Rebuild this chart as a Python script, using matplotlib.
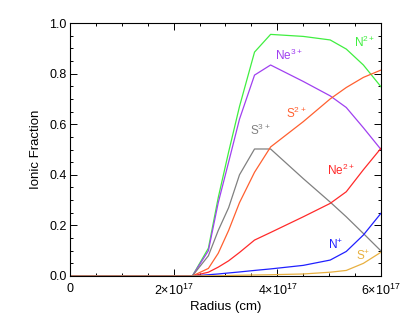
import numpy as np
import matplotlib
matplotlib.use("Agg")
import matplotlib.pyplot as plt
from matplotlib.ticker import MultipleLocator

# Radius grid (units of 1e17 cm)
radius = [0.0, 2.36, 2.67, 2.86, 3.06, 3.27, 3.56, 3.87, 4.5, 5.02, 5.33, 5.66, 6.0]

n2 = [0, 0, 0.11, 0.31, 0.49, 0.67, 0.885, 0.955, 0.947, 0.933, 0.897, 0.834, 0.748]
ne3 = [0, 0, 0.10, 0.29, 0.45, 0.62, 0.794, 0.834, 0.769, 0.712, 0.666, 0.586, 0.500]
s3 = [0, 0, 0.08, 0.18, 0.27, 0.40, 0.502, 0.502, 0.385, 0.292, 0.234, 0.168, 0.099]
s2 = [0, 0, 0.03, 0.09, 0.18, 0.29, 0.41, 0.51, 0.61, 0.70, 0.745, 0.785, 0.814]
ne2 = [0, 0, 0.015, 0.035, 0.06, 0.093, 0.142, 0.172, 0.234, 0.287, 0.333, 0.42, 0.505]
n1 = [0, 0, 0.005, 0.008, 0.012, 0.016, 0.022, 0.028, 0.042, 0.063, 0.097, 0.162, 0.248]
s1 = [0, 0, 0.001, 0.001, 0.002, 0.003, 0.004, 0.005, 0.008, 0.015, 0.022, 0.050, 0.094]

series = [
    ("N$^{2+}$", n2, "#40ee40", (5.68, 0.925)),
    ("Ne$^{3+}$", ne3, "#a040f0", (4.23, 0.87)),
    ("S$^{3+}$", s3, "#808080", (3.67, 0.577)),
    ("S$^{2+}$", s2, "#ff6030", (4.36, 0.644)),
    ("Ne$^{2+}$", ne2, "#ff2a2a", (5.23, 0.419)),
    ("N$^{+}$", n1, "#2020ff", (5.12, 0.123)),
    ("S$^{+}$", s1, "#e8b040", (5.66, 0.079)),
]

x_ticks = [0, 2e17, 4e17, 6e17]
x_ticklabels = ["0", r"2$\times$10$^{17}$", r"4$\times$10$^{17}$", r"6$\times$10$^{17}$"]
y_ticks = [0.0, 0.2, 0.4, 0.6, 0.8, 1.0]

plt.rcParams['font.family'] = ['Liberation Sans', 'DejaVu Sans']
plt.rcParams['mathtext.default'] = 'regular'

fig = plt.figure(figsize=(4.02, 3.21), dpi=100)
ax = fig.add_axes([70/402, 1-276/321, (381-70)/402, (276-23)/321])

xs = np.array(radius) * 1e17
for lab, ys, col, pos in series:
    ax.plot(xs, ys, color=col, lw=0.9)
    ax.text(pos[0]*1e17, pos[1], lab, color=col, fontsize=8.5, ha='center', va='center')

ax.set_xlim(0, 6e17)
ax.set_ylim(0, 1.0)
ax.set_xticks(x_ticks)
ax.set_xticklabels(x_ticklabels)
ax.set_yticks(y_ticks)
ax.set_yticklabels([f"{v:.1f}" for v in y_ticks])
ax.xaxis.set_minor_locator(MultipleLocator(0.5e17))
ax.yaxis.set_minor_locator(MultipleLocator(0.05))
ax.tick_params(which='both', direction='in', top=True, right=True, labelsize=9, width=0.7)
ax.tick_params(which='major', length=5)
ax.tick_params(axis='y', which='major', pad=2.5)
ax.tick_params(axis='x', which='major', pad=5)
ax.tick_params(which='minor', length=2.5)
for s in ax.spines.values():
    s.set_linewidth(0.8)
ax.set_xlabel("Radius (cm)", fontsize=9.5, labelpad=2)
ax.set_ylabel("Ionic Fraction", fontsize=9.5, labelpad=5)

fig.savefig("out.png", dpi=100)
